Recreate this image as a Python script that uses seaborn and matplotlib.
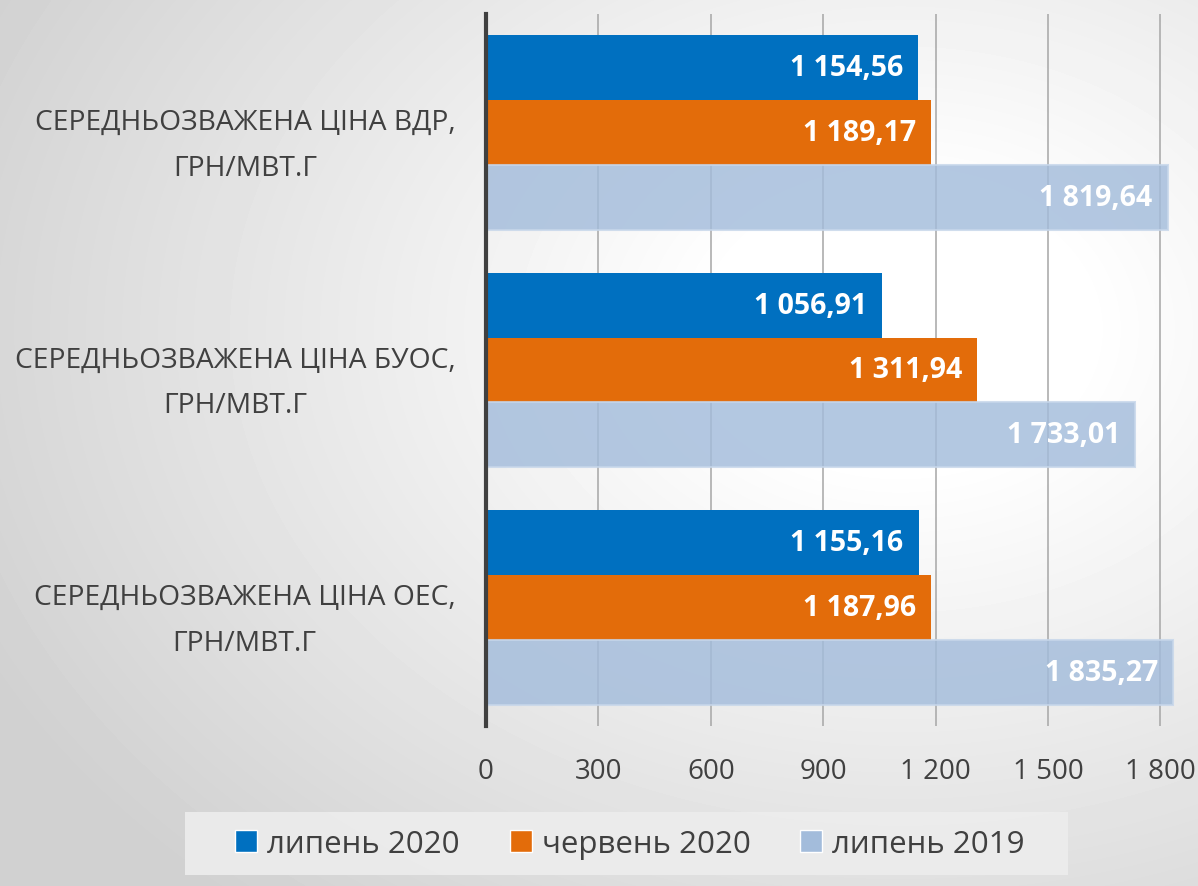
import numpy as np
import pandas as pd
import matplotlib.pyplot as plt
import seaborn as sns
from matplotlib.patches import Rectangle

# дані з графіка
categories = ["СЕРЕДНЬОЗВАЖЕНА ЦІНА ВДР,\nГРН/МВТ.Г",
              "СЕРЕДНЬОЗВАЖЕНА ЦІНА БУОС,\nГРН/МВТ.Г",
              "СЕРЕДНЬОЗВАЖЕНА ЦІНА ОЕС,\nГРН/МВТ.Г"]
series = ["липень 2020", "червень 2020", "липень 2019"]
jul_2020 = [1154.56, 1056.91, 1155.16]
jun_2020 = [1189.17, 1311.94, 1187.96]
jul_2019 = [1819.64, 1733.01, 1835.27]
x_ticks = [0, 300, 600, 900, 1200, 1500, 1800]

df = pd.DataFrame({
    "cat": categories * 3,
    "period": [series[0]] * 3 + [series[1]] * 3 + [series[2]] * 3,
    "value": jul_2020 + jun_2020 + jul_2019,
})

sns.set_theme(style="white")
plt.rcParams["font.family"] = ["Open Sans", "DejaVu Sans"]

colors = ["#0070C0", "#E36C0A", "#A3BCDB"]

fig = plt.figure(figsize=(11.98, 8.87), dpi=100)

# фон з градієнтом
bg = fig.add_axes([0, 0, 1, 1], zorder=-10)
yy, xx = np.mgrid[0:887, 0:1198]
r = np.sqrt(((xx - 900) / 1198) ** 2 + ((yy - 330) / 887) ** 2)
shade = np.clip(1.04 - 0.26 * r, 0.82, 1.0)
bg.imshow(shade, cmap="gray", vmin=0, vmax=1, aspect="auto", interpolation="bilinear")
bg.axis("off")

# підкладка легенди
fig.patches.append(Rectangle((185 / 1198, 1 - 876 / 887), 883 / 1198, 63 / 887,
                             transform=fig.transFigure, facecolor="#EDEDED",
                             edgecolor="none", alpha=0.9, zorder=-5))

ax = fig.add_axes([486 / 1198, 160 / 887, 693 / 1198, 712 / 887])
ax.set_facecolor("none")
sns.barplot(data=df, y="cat", x="value", hue="period", orient="h",
            hue_order=series, palette=colors, width=0.82, gap=0,
            saturation=1, ax=ax, legend=True)

for i, cont in enumerate(ax.containers):
    for p in cont:
        if i == 2:
            p.set_alpha(0.82)
            p.set_edgecolor("#C6D6EA")
            p.set_linewidth(1.5)
        else:
            p.set_edgecolor("none")
        p.set_zorder(3)
        w = p.get_width()
        txt = f"{w:,.2f}".replace(",", " ").replace(".", ",")
        ax.annotate(txt, (w, p.get_y() + p.get_height() / 2),
                    xytext=(-11, 0), textcoords="offset points",
                    ha="right", va="center", color="white",
                    fontsize=20.5, fontweight="bold", zorder=5)

ax.set_xlim(0, 1850)
ax.set_xticks(x_ticks)
ax.set_xticklabels([f"{t:,}".replace(",", " ") for t in x_ticks])
ax.xaxis.grid(True, color="#A6A6A6", linewidth=1.1, zorder=1)
ax.set_axisbelow(True)
ax.set_xlabel("")
ax.set_ylabel("")
for s in ["top", "right", "bottom"]:
    ax.spines[s].set_visible(False)
ax.spines["left"].set_color("#404040")
ax.spines["left"].set_linewidth(3)
ax.spines["left"].set_zorder(6)
ax.tick_params(axis="x", length=0, pad=22, labelsize=20, labelcolor="#404040")
ax.tick_params(axis="y", length=0, pad=22, labelsize=20.3, labelcolor="#404040")
for lab in ax.get_yticklabels():
    lab.set_multialignment("center")
    lab.set_linespacing(1.85)

handles, labels = ax.get_legend_handles_labels()
ax.get_legend().remove()
leg = fig.legend(handles, labels, loc="center", bbox_to_anchor=(630 / 1198, 1 - 845 / 887),
                 ncol=3, frameon=False, fontsize=22.5, handlelength=0.7, handleheight=0.7,
                 handletextpad=0.32, columnspacing=1.6, borderpad=0.45, borderaxespad=0,
                 labelcolor="#404040")

fig.savefig("out.png", dpi=100)
